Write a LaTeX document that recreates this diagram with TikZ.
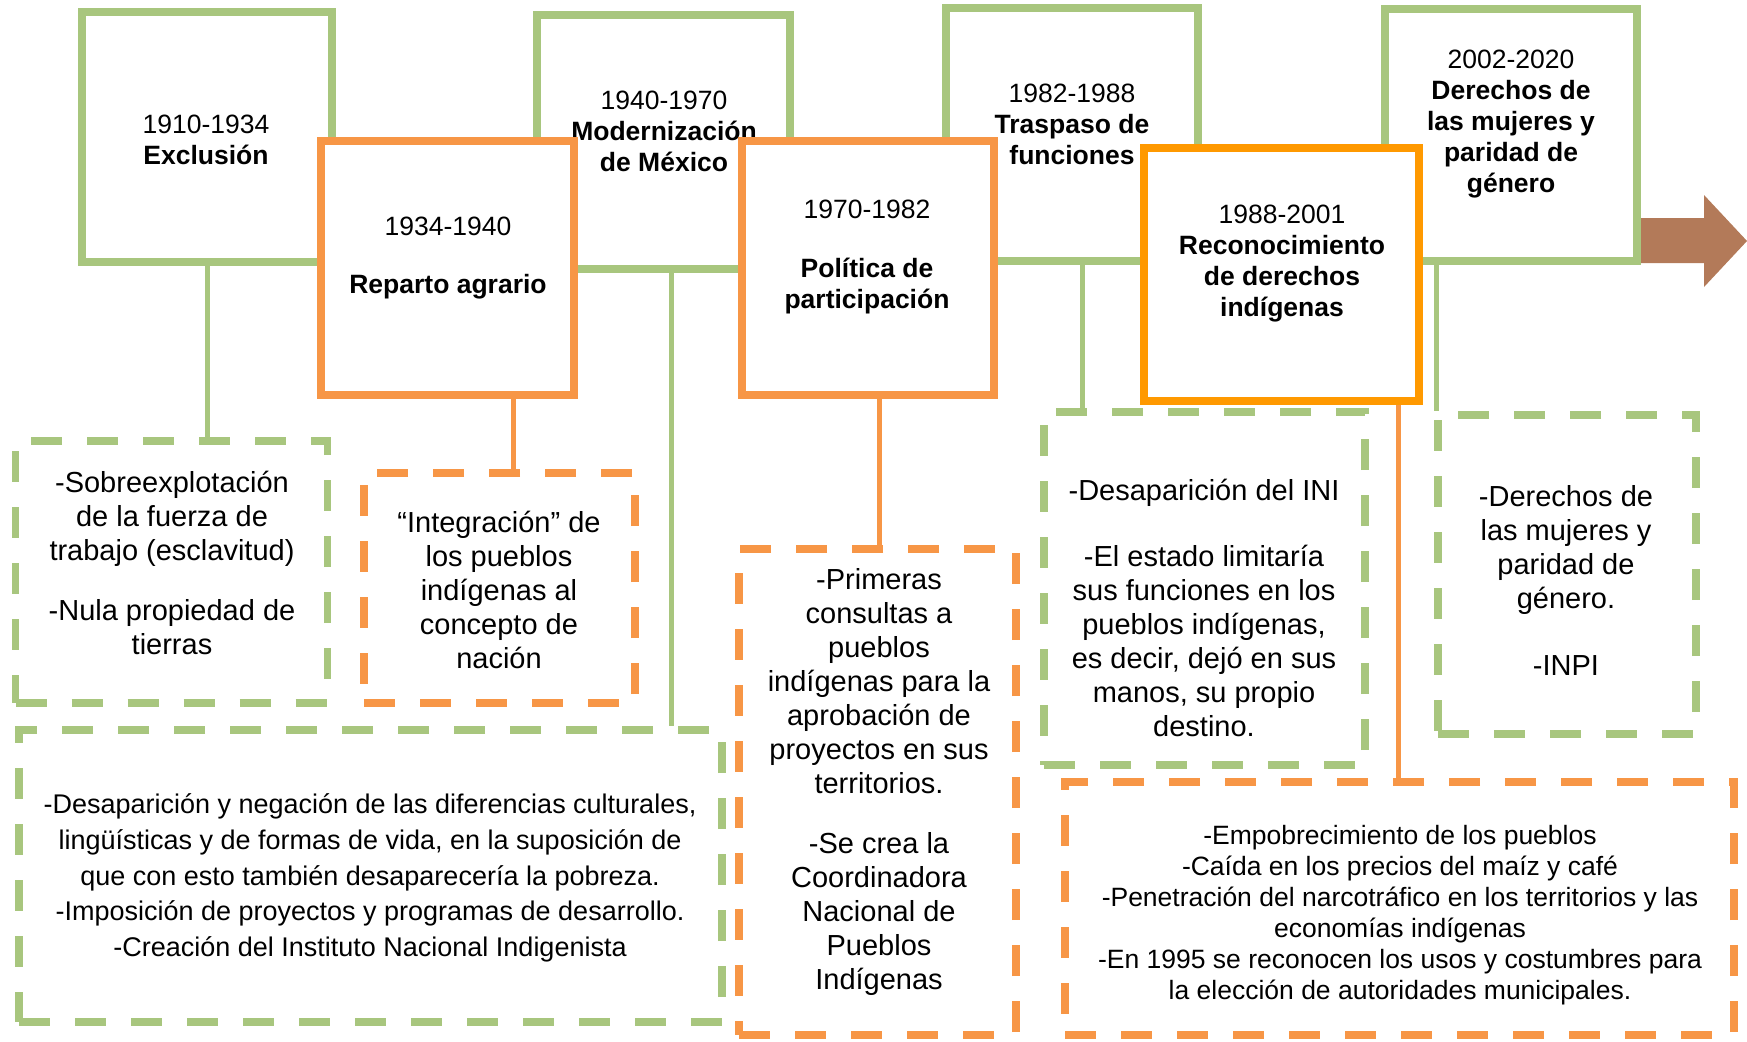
\documentclass[tikz,border=0pt]{standalone}
\usepackage{fontspec}
\setmainfont{Liberation Sans}
\definecolor{verde}{HTML}{A8C67E}
\definecolor{naranja}{HTML}{F79646}
\definecolor{naranjafuerte}{HTML}{FF9900}
\definecolor{cafe}{HTML}{B37A59}
\begin{document}
\begin{tikzpicture}[x=1pt,y=-1pt,
  caja/.style={draw=#1,line width=8pt,fill=white,inner sep=0pt},
  nota/.style={draw=#1,line width=7.5pt,dash pattern=on 31pt off 25pt,inner sep=0pt},
  conector/.style={draw=#1,line width=5pt},
  titulo/.style={align=center,inner sep=0pt,font=\fontsize{26.5}{31}\selectfont},
  texto/.style={align=center,inner sep=0pt,font=\fontsize{29}{34}\selectfont}]
\useasboundingbox (0,0) rectangle (1747,1041);
\fill[cafe] (1639,218) -- (1704,218) -- (1704,195) -- (1747,241) -- (1704,287) -- (1704,263) -- (1639,263) -- cycle;
\node[caja=verde,minimum width=250pt,minimum height=250pt] (exclusion) at (206.5,137) {};
\node[titulo] (texclusion) at (206,140) {1910-1934\\\textbf{Exclusión}};
\node[caja=verde,minimum width=253pt,minimum height=254pt] (modernizacion) at (663.5,142) {};
\node[titulo] (tmodernizacion) at (664,131) {1940-1970\\\textbf{Modernización}\\\textbf{de México}};
\node[caja=verde,minimum width=252pt,minimum height=253pt] (traspaso) at (1072,134.5) {};
\node[titulo] (ttraspaso) at (1072,124) {1982-1988\\\textbf{Traspaso de}\\\textbf{funciones}};
\node[caja=verde,minimum width=252pt,minimum height=252pt] (derechos) at (1511,135) {};
\node[titulo] (tderechos) at (1511,124) {2002-2020\\\textbf{Derechos de}\\\textbf{las mujeres y}\\\textbf{paridad de}\\\textbf{género}};
\node[caja=naranja,minimum width=253pt,minimum height=254pt] (reparto) at (447.5,268) {};
\node[titulo] (treparto) at (448,258) {1934-1940\\[27pt]\textbf{Reparto agrario}};
\node[caja=naranja,minimum width=252pt,minimum height=254pt] (participacion) at (868,268) {};
\node[titulo] (tparticipacion) at (867,257) {1970-1982\\[28pt]\textbf{Política de}\\\textbf{participación}};
\node[caja=naranjafuerte,minimum width=275pt,minimum height=253pt] (reconocimiento) at (1281.5,274.5) {};
\node[titulo] (treconocimiento) at (1282,264) {1988-2001\\\textbf{Reconocimiento}\\\textbf{de derechos}\\\textbf{indígenas}};
\node[nota=verde,minimum width=312pt,minimum height=262pt] (nexclusion) at (171.5,572) {};
\node[texto] (txexclusion) at (172,563) {-Sobreexplotación\\de la fuerza de\\trabajo (esclavitud)\\[26pt]-Nula propiedad de\\tierras};
\node[nota=naranja,minimum width=271pt,minimum height=230pt] (nreparto) at (499.5,588) {};
\node[texto] (txreparto) at (499,590) {“Integración” de\\los pueblos\\indígenas al\\concepto de\\nación};
\node[nota=verde,minimum width=703pt,minimum height=292pt] (nmodernizacion) at (370.5,876) {};
\node[texto,font=\fontsize{27}{35.7}\selectfont] (txmodernizacion) at (370,878) {-Desaparición y negación de las diferencias culturales,\\lingüísticas y de formas de vida, en la suposición de\\que con esto también desaparecería la pobreza.\\-Imposición de proyectos y programas de desarrollo.\\-Creación del Instituto Nacional Indigenista};
\node[nota=naranja,minimum width=277pt,minimum height=486pt] (nparticipacion) at (877.5,792) {};
\node[texto] (txparticipacion) at (879,782) {-Primeras\\consultas a\\pueblos\\indígenas para la\\aprobación de\\proyectos en sus\\territorios.\\[26.5pt]-Se crea la\\Coordinadora\\Nacional de\\Pueblos\\Indígenas};
\node[nota=verde,minimum width=321pt,minimum height=353pt] (ntraspaso) at (1204.5,588.5) {};
\node[texto] (txtraspaso) at (1204,608) {-Desaparición del INI\\[32pt]-El estado limitaría\\sus funciones en los\\pueblos indígenas,\\es decir, dejó en sus\\manos, su propio\\destino.};
\node[nota=verde,minimum width=258pt,minimum height=319pt] (nderechos) at (1567,574.5) {};
\node[texto] (txderechos) at (1566,580) {-Derechos de\\las mujeres y\\paridad de\\género.\\[33pt]-INPI};
\node[nota=naranja,minimum width=669pt,minimum height=253pt] (nreconocimiento) at (1399.5,908.5) {};
\node[texto,font=\fontsize{26.5}{31}\selectfont] (txreconocimiento) at (1400,915) {-Empobrecimiento de los pueblos\\-Caída en los precios del maíz y café\\-Penetración del narcotráfico en los territorios y las\\economías indígenas\\-En 1995 se reconocen los usos y costumbres para\\la elección de autoridades municipales.};
\draw[conector=verde] (207,0 |- exclusion.south) -- (207,0 |- nexclusion.north);
\draw[conector=naranja] (513,0 |- reparto.south) -- (513,0 |- nreparto.north);
\draw[conector=verde] (671,0 |- modernizacion.south) -- (671,0 |- nmodernizacion.north);
\draw[conector=naranja] (879,0 |- participacion.south) -- (879,0 |- nparticipacion.north);
\draw[conector=verde] (1082,0 |- traspaso.south) -- (1082,0 |- ntraspaso.north);
\draw[conector=naranja] (1398,0 |- reconocimiento.south) -- (1398,0 |- nreconocimiento.north);
\draw[conector=verde] (1436,0 |- derechos.south) -- (1436,0 |- nderechos.north);
\end{tikzpicture}
\end{document}
